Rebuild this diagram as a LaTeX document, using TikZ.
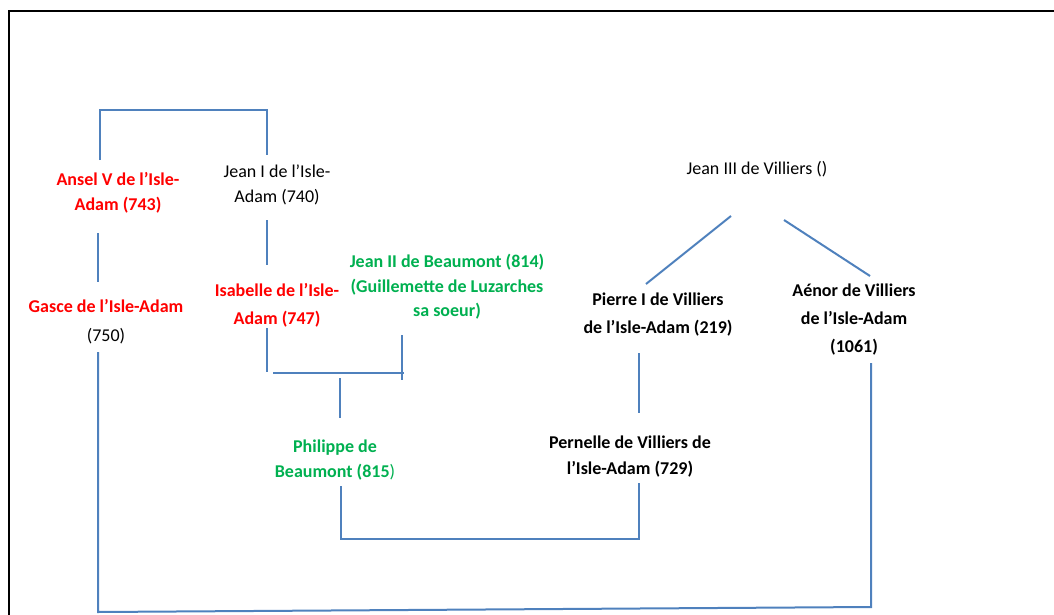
\documentclass[tikz,border=0pt]{standalone}
\usepackage{fontspec}
\setmainfont{Carlito}
\definecolor{lineblue}{HTML}{4F81BD}
\definecolor{famred}{HTML}{FF0000}
\definecolor{famgreen}{HTML}{00B050}
\begin{document}
\begin{tikzpicture}[x=1pt,y=-1pt,
  person/.style={inner sep=0pt, align=center, font=\fontsize{18}{25}\selectfont},
  pbold/.style={person, font=\fontsize{18}{25}\selectfont\bfseries},
  link/.style={draw=lineblue, line width=2pt},
  frameline/.style={draw=black, line width=2pt}]
\useasboundingbox (0,0) rectangle (1054,615);
% frame (cropped at right and bottom)
\coordinate (fTR) at (1060,11);
\coordinate (fTL) at (9,11);
\coordinate (fBL) at (9,620);
\draw[frameline] (fTR) -- (fTL) -- (fBL);

% people
\node[pbold, text=famred] (ansel) at (118,193) {Ansel V de l’Isle-\\Adam (743)};
\node[person] (jean1) at (277,185) {Jean I de l’Isle-\\Adam (740)};
\node[pbold, text=famred] (gasce) at (106,306) {Gasce de l’Isle-Adam};
\node[person] (g750) at (106,336) {(750)};
\node[pbold, text=famred, font=\fontsize{18}{28}\selectfont\bfseries] (isabelle) at (277,305) {Isabelle de l’Isle-\\Adam (747)};
\node[pbold, text=famgreen, font=\fontsize{18}{24.5}\selectfont\bfseries] (jean2) at (447,287) {Jean II de Beaumont (814)\\(Guillemette de Luzarches\\sa soeur)};
\node[pbold, text=famgreen] (philippe) at (335,460) {Philippe de\\Beaumont (815\textmd{)}};
\node[pbold, font=\fontsize{18}{26}\selectfont\bfseries] (pernelle) at (630,457) {Pernelle de Villiers de\\l’Isle-Adam (729)};
\node[pbold, font=\fontsize{18}{28}\selectfont\bfseries] (pierre) at (658,315) {Pierre I de Villiers\\de l’Isle-Adam (219)};
\node[person] (jean3) at (757,169) {Jean III de Villiers ()};
\node[pbold, font=\fontsize{18}{28}\selectfont\bfseries] (aenor) at (854,320) {Aénor de Villiers\\de l’Isle-Adam\\(1061)};

% connector end points
\coordinate (anselTop) at (100,160);
\coordinate (jean1Top) at (267,155);
\coordinate (topL) at (100,110);
\coordinate (topR) at (267,110);
\coordinate (anselBot) at (98,233);
\coordinate (gasceTop) at (98,282);
\coordinate (jean1Bot) at (267,220);
\coordinate (isaTop) at (267,265);
\coordinate (isaBot) at (267,328);
\coordinate (isaFoot) at (267,372);
\coordinate (marL) at (273,373);
\coordinate (marR) at (404,373);
\coordinate (j2Top) at (402,335);
\coordinate (j2Bot) at (402,380);
\coordinate (childTop) at (340,378);
\coordinate (childBot) at (340,418);
\coordinate (phBot) at (341,486);
\coordinate (phCorner) at (341,539);
\coordinate (peCorner) at (639,539);
\coordinate (peBot) at (639,483);
\coordinate (pierreBot) at (639,353);
\coordinate (peTop) at (639,413);
\coordinate (pierreTop) at (646,284);
\coordinate (j3L) at (731,216);
\coordinate (j3R) at (784,220);
\coordinate (aenorTop) at (870,276);
\coordinate (aenorBot) at (871,363);
\coordinate (aenorCorner) at (871,607);
\coordinate (gasceBot) at (98,352);
\coordinate (gasceCorner) at (98,612);

% connectors
\draw[link] (anselTop) -- (topL) -- (topR) -- (jean1Top);
\draw[link] (anselBot) -- (gasceTop);
\draw[link] (jean1Bot) -- (isaTop);
\draw[link] (isaBot) -- (isaFoot);
\draw[link] (marL) -- (marR);
\draw[link] (j2Top) -- (j2Bot);
\draw[link] (childTop) -- (childBot);
\draw[link] (phBot) -- (phCorner) -- (peCorner) -- (peBot);
\draw[link] (pierreBot) -- (peTop);
\draw[link] (pierreTop) -- (j3L);
\draw[link] (j3R) -- (aenorTop);
\draw[link] (aenorBot) -- (aenorCorner) -- (gasceCorner) -- (gasceBot);
\end{tikzpicture}
\end{document}
